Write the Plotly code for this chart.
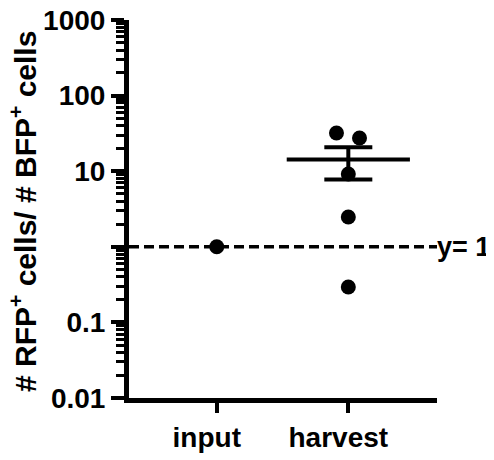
import numpy as np
import plotly.graph_objects as go

# ---- data ----
categories = ["input", "harvest"]
input_values = [1.0]
harvest_values = [32.0, 27.5, 9.2, 2.48, 0.294]
harvest_jitter = [-0.09, 0.085, 0.0, 0.0, 0.0]
y_tick_vals = [0.01, 0.1, 1, 10, 100, 1000]
y_tick_text = ["0.01", "0.1", "", "10", "100", "1000"]
reference_value = 1
reference_label = "y= 1"
y_title = "# RFP<sup>+</sup> cells/ # BFP<sup>+</sup> cells"

cat_pos = {c: i for i, c in enumerate(categories)}
FONT = "Liberation Sans"

h_mean = float(np.mean(harvest_values))
h_sem = float(np.std(harvest_values, ddof=1) / np.sqrt(len(harvest_values)))

minor_vals = [m * 10.0 ** e for e in range(-2, 3) for m in range(2, 10)]

fig = go.Figure()

# mean line with SEM
fig.add_trace(go.Scatter(
    x=[cat_pos["harvest"]], y=[h_mean], mode="markers",
    marker=dict(symbol="line-ew", size=88, color="black",
                line=dict(color="black", width=4)),
    error_y=dict(type="data", array=[h_sem], visible=True,
                 color="black", thickness=4, width=24),
    showlegend=False, hoverinfo="skip"))

fig.add_trace(go.Scatter(
    x=[cat_pos["input"]] * len(input_values), y=input_values, mode="markers",
    marker=dict(size=15, color="black"), showlegend=False))

fig.add_trace(go.Scatter(
    x=[cat_pos["harvest"] + j for j in harvest_jitter], y=harvest_values,
    mode="markers", marker=dict(size=15, color="black"), showlegend=False))

fig.add_shape(type="line", xref="paper", x0=0, x1=1, yref="y",
              y0=reference_value, y1=reference_value,
              line=dict(color="black", width=3.5, dash="10px,5px"), layer="below")
fig.add_annotation(xref="paper", x=1.0, yref="y", y=np.log10(reference_value),
                   text="<b>%s</b>" % reference_label, showarrow=False,
                   xanchor="left", yanchor="middle", xshift=-2,
                   font=dict(family=FONT, size=27, color="black"))
fig.add_annotation(xref="paper", x=0, xanchor="center", xshift=-106,
                   yref="paper", y=0.5, yanchor="middle", yshift=-3,
                   textangle=-90,
                   text="<b>%s</b>" % y_title, showarrow=False,
                   font=dict(family=FONT, size=30, color="black"))

# page body has an 8px default margin; size the figure to fit the window
fig.update_layout(
    width=486, height=452,
    margin=dict(l=121, r=57, t=12, b=62, autoexpand=False),
    paper_bgcolor="white", plot_bgcolor="white",
    font=dict(family=FONT, color="black"),
    xaxis=dict(range=[-0.667, 1.674], tickvals=[cat_pos[c] for c in categories],
               ticktext=["<b>%s</b>" % c for c in categories],
               tickfont=dict(family=FONT, size=28, color="black"),
               automargin=False, ticklabelshift=-10, ticklabelstandoff=0,
               ticklabeloverflow="allow",
               showgrid=False, zeroline=False, showline=True, linecolor="black",
               linewidth=5, ticks="outside", ticklen=10, tickwidth=4,
               tickcolor="black"),
    yaxis=dict(type="log", range=[-2, 3], tickvals=y_tick_vals,
               ticktext=["<b>%s</b>" % t if t else "" for t in y_tick_text],
               tickfont=dict(family=FONT, size=28, color="black"),
               automargin=False, ticklabeloverflow="allow",
               showgrid=False, zeroline=False, showline=True, linecolor="black",
               linewidth=5, ticks="outside", ticklen=13, tickwidth=4,
               tickcolor="black",
               minor=dict(tickvals=minor_vals, ticks="outside", ticklen=8,
                          tickwidth=3, tickcolor="black", showgrid=False)),
)

fig.write_html("out.html")
